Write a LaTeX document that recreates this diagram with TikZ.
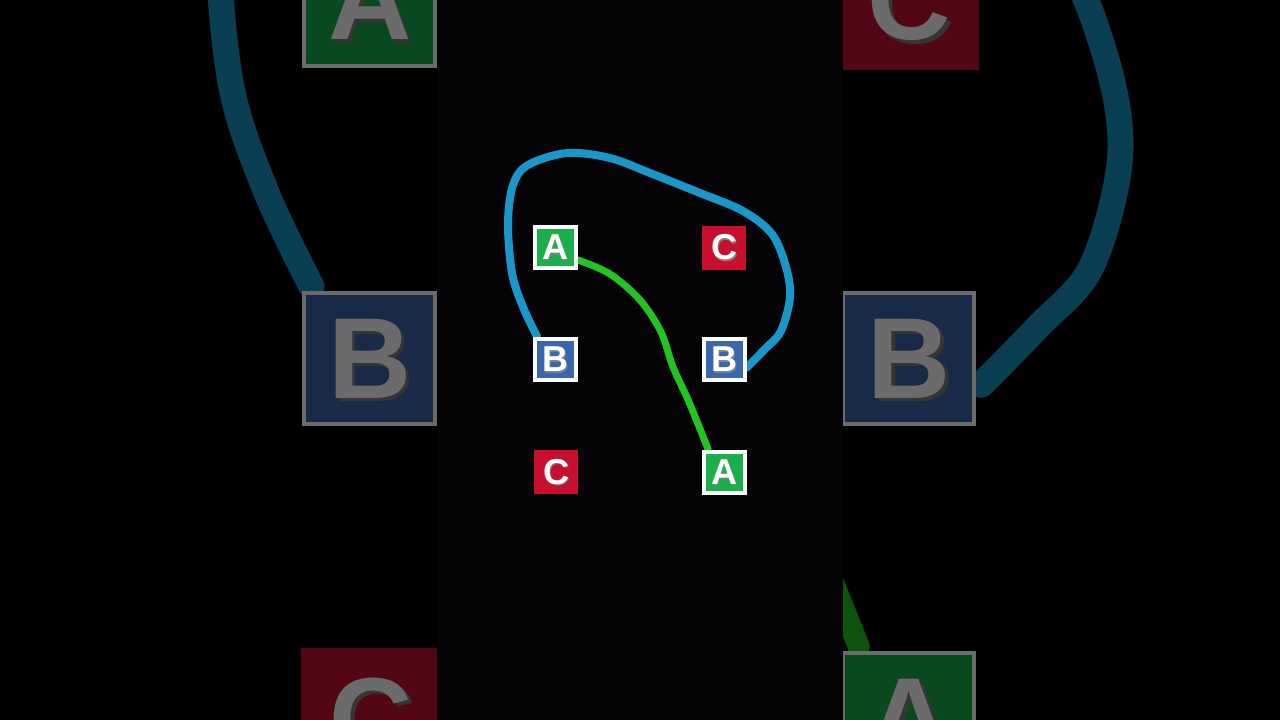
\documentclass[tikz,border=0pt]{standalone}
\usepackage{fontspec}
\setmainfont{Liberation Sans}
\pgfdeclarelayer{bgc}
\pgfdeclarelayer{bgn}
\pgfdeclarelayer{dim}
\pgfdeclarelayer{ctr}
\pgfdeclarelayer{cc}
\pgfsetlayers{bgc,bgn,dim,ctr,cc,main}
\definecolor{gA}{HTML}{1AAF4B}
\definecolor{bB}{HTML}{3A66AD}
\definecolor{rC}{HTML}{C8102E}
\definecolor{blu}{HTML}{1A96C8}
\definecolor{grn}{HTML}{22C422}
\definecolor{colbg}{HTML}{050305}
\newcommand{\ltr}[1]{\rlap{\hspace{1.2pt}\smash{\raisebox{-1.2pt}{\color{black!50}#1}}}#1}
\tikzset{
  tile/.style={minimum size=41pt, inner sep=0pt, line width=4pt, draw=white,
    text=white, font=\bfseries\fontsize{36}{36}\selectfont},
  tileA/.style={tile, fill=gA},
  tileB/.style={tile, fill=bB},
  tileC/.style={tile, draw=none, fill=rC, minimum size=44pt},
  bluecurve/.style={draw=blu, line cap=round, line join=round},
  greencurve/.style={draw=grn, line cap=round, line join=round},
}
\newcommand{\dgm}[5]{%
  \begin{pgfonlayer}{#5}
    \node[tileA] (#1A1) at (555.5,247.5) {\ltr{A}};
    \node[tileC] (#1C1) at (724,247.5) {\ltr{C}};
    \node[tileB] (#1B1) at (555.5,359.5) {\ltr{B}};
    \node[tileB] (#1B2) at (724,359.5) {\ltr{B}};
    \node[tileC] (#1C2) at (556,472) {\ltr{C}};
    \node[tileA] (#1A2) at (724,472) {\ltr{A}};
  \end{pgfonlayer}
  \begin{pgfonlayer}{#4}
    \draw[bluecurve, line width=#2] plot[smooth, tension=0.55] coordinates {
      (#1B1.129) (523,307) (512,273) (508,223) (513,185) (528,165) (567,153)
      (610,158) (650,173) (700,193) (743,211) (772,234) (786,267) (790,297)
      (781,331) (764,350) (#1B2.-20)};
    \draw[greencurve, line width=#3] plot[smooth, tension=0.55] coordinates {
      (#1A1.-29) (610,274) (640,300) (661,332) (673,367) (689,402) (#1A2.125)};
  \end{pgfonlayer}}
\begin{document}
\begin{tikzpicture}[x=1pt,y=-1pt]
  \useasboundingbox (0,0) rectangle (1280,720);
  \begin{pgfonlayer}{bgc}
    \fill[black] (0,0) rectangle (1280,720);
  \end{pgfonlayer}
  \begin{scope}[scale around={3.2:(640,360)}, transform shape]
    \dgm{b}{26pt}{22pt}{bgc}{bgn}
  \end{scope}
  \begin{pgfonlayer}{dim}
    \fill[black, opacity=0.58] (0,0) rectangle (1280,720);
  \end{pgfonlayer}
  \begin{pgfonlayer}{ctr}
    \fill[colbg] (437,0) rectangle (843,720);
  \end{pgfonlayer}
  \dgm{m}{8pt}{7pt}{cc}{main}
\end{tikzpicture}
\end{document}
